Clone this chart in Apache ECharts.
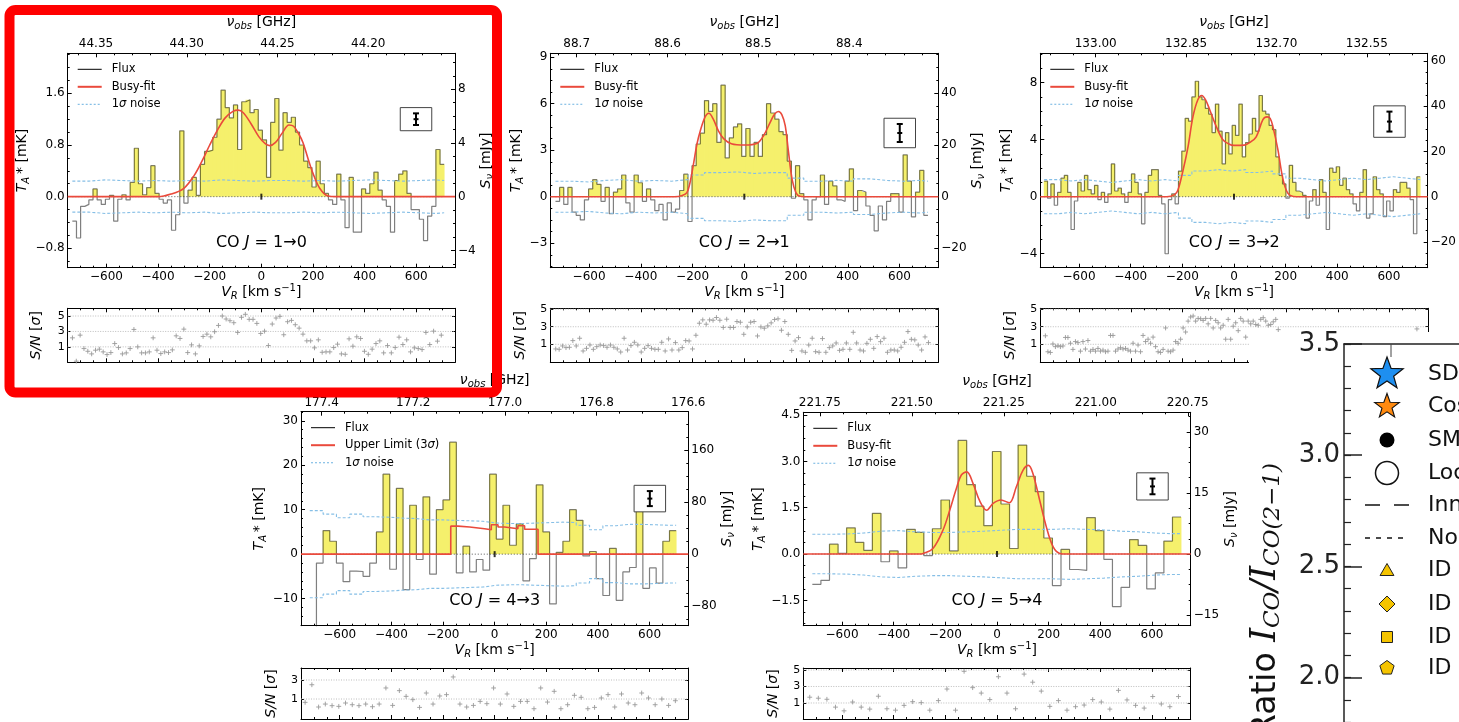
<!DOCTYPE html>
<html><head><meta charset="utf-8">
<script src="https://cdn.jsdelivr.net/npm/echarts@6/dist/echarts.min.js"></script>
<style>html,body{margin:0;padding:0;background:#fff}#c{width:1459px;height:722px}</style>
</head><body><div id="c"></div>
<script>
// ================= DATA =================
const velTicks = [-600,-400,-200,0,200,400,600];

// ---- CO J=1-0 ----
const co10_vStart = -732, co10_dv = 16;
const co10_flux = [
 -0.38,-0.64,-0.15,-0.12,-0.05,0.12,-0.05,-0.12,-0.04,0.02,
 -0.38,-0.04,0.03,-0.05,0.22,0.75,0.20,0.03,0.14,0.48,
 0.05,-0.04,-0.10,-0.05,-0.52,-0.28,1.02,-0.10,0.10,0.30,
 0.02,0.50,0.70,0.72,0.92,1.20,1.65,1.38,1.22,1.42,
 0.73,1.47,1.50,1.30,1.35,1.03,0.88,0.30,1.15,1.52,
 0.72,1.30,1.15,1.23,1.00,0.80,0.55,0.45,0.15,0.55,
 0.20,0.05,-0.05,-0.12,0.35,-0.05,-0.48,0.30,-0.55,-0.55,
 0.12,0.05,0.20,0.38,0.10,-0.05,-0.15,-0.55,0.25,0.35,
 0.40,0.05,-0.20,-0.20,-0.35,-0.68,-0.30,-0.15,0.73,0.50];
const co10_noiseStep = 64;
const co10_noise = [0.24,0.26,0.25,0.24,0.25,0.24,0.25,0.24,0.26,0.25,0.24,0.25,0.25,0.24,0.25,0.24,0.25,0.26,0.25,0.24,0.25,0.26,0.25];
const co10_fitV = [-750,-400,-350,-300,-260,-230,-200,-170,-140,-110,-90,-70,-40,-10,15,32,55,80,107,125,145,161,180,200,226,258,290,750];
const co10_fitT = [0,0,0.04,0.13,0.33,0.55,0.8,1.03,1.22,1.32,1.34,1.3,1.13,0.93,0.82,0.79,0.84,0.98,1.11,1.09,0.97,0.84,0.6,0.36,0.13,0.01,0,0];
const co10_err = [599, 1.20, 0.09];
const co10_snStart = -731.6, co10_snStep = 14.88;
const co10_sn = [2.17,-0.85,2.52,0.78,0.43,0.09,0.57,0.70,0.35,0.0,
 0.26,1.43,0.91,0.09,0.22,0.78,3.26,1.0,0.22,0.22,
 0.35,2.17,0.57,0.13,0.35,0.26,0.61,2.43,2.09,3.3,
 0.26,1.26,0.09,1.13,2.35,2.65,2.3,2.96,3.78,5.0,
 4.61,4.39,4.13,2.87,4.83,5.22,4.57,4.57,4.04,2.74,
 3.04,1.17,3.96,4.74,4.96,2.57,4.26,4.43,3.87,3.43,
 2.65,1.78,1.78,0.87,1.91,0.3,0.35,0.35,0.91,1.35,
 0.09,0.04,2.04,1.09,2.3,2.09,0.43,0.04,0.7,1.43,
 1.78,0.22,1.17,0.22,0.91,2.26,1.3,1.91,0.35,0.87,
 0.78,0.65,2.87,1.3,3.04,1.74,2.52];
const co10_freqTicks = [44.20,44.25,44.30,44.35];
const co10_TTicks = [-0.8,0,0.8,1.6];
const co10_STicks = [-4,0,4,8];
const co10_snTicks = [1,3,5];

// ---- CO J=2-1 ----
const co21_vStart = -730, co21_dv = 16;
const co21_flux = [
 -0.3,0.6,-0.5,0.6,-1.0,-1.2,-1.5,-0.2,0.5,1.1,
 0.8,-0.3,0.6,-1.1,0.3,0.5,1.4,-0.4,-1.0,1.4,
 0.9,-0.3,0.5,-0.2,-0.9,-0.5,-1.5,-0.4,-1.0,-0.8,
 0.4,1.45,-1.6,2.0,3.4,4.1,6.2,5.5,6.0,3.5,
 7.2,2.5,3.8,4.5,4.7,2.6,4.4,2.6,3.5,2.6,
 4.0,6.0,5.4,5.0,4.2,4.0,2.3,-0.1,2.0,0.2,
 -0.2,-1.5,-0.2,0.0,1.4,-0.5,1.0,0.7,-0.2,-0.3,
 1.0,1.8,-0.9,0.4,0.3,-0.6,-1.2,-2.2,-0.6,-1.5,
 -0.3,0.2,0.2,-1.0,2.7,1.0,-1.3,0.3,1.7,-1.2];
const co21_noiseStep = 64;
const co21_noise = [1.0,0.95,1.05,1.1,1.0,1.05,1.0,1.1,1.4,1.55,1.6,1.5,1.55,1.55,1.2,1.0,1.05,1.0,1.15,1.05,1.0,1.05,1.0];
const co21_fitV = [-750,-270,-240,-222,-210,-196,-183,-170,-151,-137,-120,-100,-80,-50,0,50,75,100,118,132,145,158,170,185,200,215,235,750];
const co21_fitT = [0,0,0.08,0.26,0.9,2.15,3.4,4.26,5.16,5.38,5.0,4.25,3.75,3.42,3.33,3.45,3.95,4.8,5.35,5.5,5.3,4.6,3.0,1.1,0.25,0.03,0,0];
const co21_err = [601, 4.11, 0.58];
const co21_snStart = -729, co21_snStep = 13.22;
const co21_sn = [0.47,0.43,0.81,0.62,0.66,1.42,0.81,1.69,0.24,0.54,
 0.92,0.43,0.73,0.92,0.85,0.66,0.92,0.66,0.47,0.12,
 1.69,0.35,0.85,1.23,0.92,0.12,0.54,0.85,0.54,0.43,
 0.43,1.23,0.24,1.61,0.35,1.19,0.35,0.62,1.42,1.38,
 0.47,2.03,3.4,3.78,3.29,3.78,3.74,4.05,3.74,2.92,
 3.86,2.92,2.92,3.59,3.51,2.14,2.98,3.51,3.59,1.95,
 2.98,2.83,3.1,3.44,3.82,3.9,2.6,3.59,2.14,0.31,
 1.38,1.76,0.24,0.09,0.92,1.69,0.16,0.09,1.65,0.09,
 0.62,0.81,1.15,0.31,0.43,1.15,0.43,2.37,1.15,0.35,
 0.24,1.11,1.57,0.54,1.88,1.3,1.69,0.09,0.35,0.35,
 0.24,0.66,1.23,2.45,1.57,1.5,0.92,0.35,1.84,1.19];
const co21_freqTicks = [88.4,88.5,88.6,88.7];
const co21_TTicks = [-3,0,3,6,9];
const co21_STicks = [-20,0,20,40];
const co21_snTicks = [1,3,5];

// ---- CO J=3-2 ----
const co32_vStart = -735, co32_dv = 13;
const co32_flux = [
 1.1,-0.1,0.9,-0.6,0.3,1.3,1.5,0.3,-2.3,-0.3,
 1.0,0.4,1.5,0.5,0.2,0.8,-0.2,0.3,-0.4,0.2,
 2.3,0.4,0.6,0.2,-0.4,0.3,1.6,1.0,0.2,-1.9,
 0.3,1.5,1.9,1.9,0.1,-0.5,-4.0,-0.2,0.2,-0.5,
 1.8,3.2,5.5,5.3,7.0,8.1,7.0,6.8,6.2,5.8,
 4.5,6.5,4.6,2.3,4.5,3.0,5.0,4.3,6.5,2.8,
 3.8,4.4,5.5,4.6,7.1,6.0,5.8,5.0,4.7,2.8,
 1.5,0.9,-0.1,2.2,1.0,0.4,0.3,0.1,-1.5,-0.3,
 0.5,-0.6,1.2,0.3,-2.3,2.0,1.7,2.1,0.8,1.3,
 0.5,0.2,-0.5,-1.0,0.3,1.9,-1.5,-1.2,1.4,0.5,
 0.2,-1.4,-0.3,-1.0,0.5,0.3,1.0,1.0,0.6,-0.2,
 -2.6,1.4];
const co32_noiseStep = 52;
const co32_noise = [1.2,1.1,1.2,1.1,1.0,1.1,1.2,1.1,1.2,1.1,1.5,1.8,1.9,1.8,1.9,1.7,1.8,1.6,1.3,1.2,1.1,1.2,1.3,1.2,1.3,1.4,1.3,1.2];
const co32_fitV = [-750,-260,-230,-217,-197,-178,-159,-140,-125,-110,-94,-68,-43,-20,0,40,65,86,112,128,140,151,170,190,209,230,260,750];
const co32_fitT = [0,0,0.15,0.47,1.87,3.5,5.6,6.8,7.1,6.8,6.1,4.9,4.0,3.7,3.6,3.62,3.85,4.2,5.4,5.6,5.5,4.9,3.3,1.2,0.23,0.02,0,0];
const co32_err = [602, 5.27, 0.70];
const co32_snStart = -730.3, co32_snStep = 9.68;
const co32_sn = [1.97,0.15,0.07,1.04,0.73,0.84,0.73,0.81,1.78,1.78,
 1.12,0.42,1.31,1.19,0.22,1.31,0.46,1.43,0.22,0.42,
 0.22,0.53,0.22,0.34,0.15,0.22,2.01,2.01,0.22,0.46,
 0.61,0.46,0.53,0.34,0.22,1.12,0.22,0.92,0.15,2.01,
 1.31,1.58,1.12,1.82,0.73,0.15,0.07,0.42,2.86,0.22,
 0.15,0.34,1.31,1.12,1.58,2.86,2.40,3.64,4.11,4.22,
 3.64,3.95,3.91,3.72,3.95,3.33,3.95,2.86,3.72,3.45,
 2.86,3.17,1.58,3.84,1.58,3.06,3.45,2.55,3.95,3.64,
 1.82,3.64,3.33,3.64,3.25,3.17,3.84,4.03,3.64,3.17,
 3.25,3.56,3.84,2.67];
const co32_snTailV = [706], co32_snTail = [2.75];
const co32_freqTicks = [132.55,132.70,132.85,133.00];
const co32_TTicks = [-4,0,4,8];
const co32_STicks = [-20,0,20,40,60];
const co32_snTicks = [1,3,5];

// ---- CO J=4-3 ----
const co43_vStart = -716, co43_dv = 25.8;
const co43_flux = [-20,-2.0,5.3,2.9,-2.0,-6.2,-3.8,-3.9,-5.0,-2.0,
 5.0,18.0,-3.4,14.8,-8.0,11.0,-1.2,12.9,-4.5,10.0,
 12.2,25.2,-4.2,1.8,-4.0,-1.2,-3.6,18.0,3.4,11.0,
 2.0,6.8,-6.0,-1.0,15.6,5.0,-11.2,0.4,2.9,10.0,
 7.6,-0.4,0.6,-5.5,-9.3,1.3,-10.4,-4.0,-3.0,9.9,
 -7.7,-3.1,-6.5,2.9,5.3];
const co43_noiseStep = 51.6;
const co43_noise = [9.8,9.0,8.2,9.0,8.4,8.3,8.1,8.0,7.7,7.7,7.6,7.5,7.4,7.0,6.9,6.9,7.0,7.1,7.2,7.1,6.5,5.5,6.4,6.7,6.7,6.6,6.5,6.5];
const co43_ulEdges = [-170,-142,-97,-39,-13,13,39,90,116,168];
const co43_ulVals = [6.3,6.1,5.7,5.5,6.6,6.1,5.7,6.4,5.6];
const co43_err = [601, 12.5, 1.69];
const co43_snStart = -734, co43_snStep = 26.07;
const co43_sn = [0.65,2.5,0.16,0.47,0.3,0.23,0.58,0.4,0.3,0.47,
 0.19,0.47,2.16,0.33,1.88,1.28,0.93,0.12,1.63,0.47,
 1.32,1.46,3.32,0.47,0.16,0.33,0.75,0.51,2.16,0.47,
 1.53,0.23,0.75,0.75,-0.02,2.16,0.68,1.81,-0.02,0.4,
 1.39,1.18,-0.02,0.12,1.11,1.46,0.16,1.53,0.58,0.4,
 1.63,1.11,0.4,1.0,0.33,0.82];
const co43_freqTicks = [176.6,176.8,177.0,177.2,177.4];
const co43_TTicks = [-10,0,10,20,30];
const co43_STicks = [-80,0,80,160];
const co43_snTicks = [1,3];

// ---- CO J=5-4 ----
const co54_vStart = -715, co54_dv = 33.2;
const co54_flux = [-0.98,-0.85,0.32,0.02,0.85,0.38,0.12,1.32,-0.25,0.1,
 -0.45,0.8,0.7,-0.05,0.82,1.75,0.1,3.68,2.25,1.55,
 0.92,3.32,1.62,0.18,3.53,2.52,2.02,0.52,-1.02,0.15,
 -0.5,-0.53,1.18,0.76,-0.17,-1.7,-1.08,0.47,0.28,-1.13,
 -0.61,0.42,1.2];
const co54_noiseStep = 66.4;
const co54_noise = [0.64,0.65,0.68,0.74,0.76,0.72,0.70,0.70,0.72,0.74,0.77,0.80,0.80,0.80,0.82,0.80,0.78,0.74,0.72,0.68,0.66,0.66];
const co54_fitV = [-750,-300,-286,-248,-209,-183,-157,-138,-117,-93,-67,-40,-15,15,48,75,101,122,139,165,191,217,243,270,750];
const co54_fitT = [0,0,0.02,0.18,0.78,1.42,2.13,2.56,2.66,2.29,1.72,1.42,1.64,1.75,1.66,2.18,2.72,2.87,2.61,1.75,0.88,0.24,0.02,0,0];
const co54_err = [602, 2.19, 0.254];
const co54_snStart = -725, co54_snStep = 33.2;
const co54_sn = [1.7,1.58,1.45,0.5,0.05,1.12,0.5,0.26,1.82,0.3,
 0.13,0.71,1.16,1.04,0.13,1.29,2.69,0.13,4.84,2.86,
 2.2,1.41,4.18,2.2,0.3,4.5,3.52,2.44,0.59,1.29,
 0.13,0.55,0.75,1.41,1.12,0.26,2.53,1.37,0.71,0.38,
 1.78,0.88,0.55,1.78];
const co54_freqTicks = [220.75,221.00,221.25,221.50,221.75];
const co54_TTicks = [-1.5,0,1.5,3.0,4.5];
const co54_STicks = [-15,0,15,30];
const co54_snTicks = [1,3,5];

// ---- overlaid second figure (partial) ----
const ratioTicks = [2.0,2.5,3.0,3.5];
const ratioLegend = ['SD','Cos','SM','Loc','Inn','No','ID','ID','ID','ID'];

// ================= STYLE / LAYOUT =================
const F = 'DejaVu Sans';
const YEL = '#f5f06c', RED = '#ea4a3c', BLUE = '#86bfe6', FLUXC = 'rgba(0,0,0,0.5)';

function rich(size){
  const sm = Math.round(size*0.72);
  const base = {fontFamily:F, color:'#000', fill:'#000'};
  return {
    n:Object.assign({}, base, {fontSize:size, lineHeight:size+4, verticalAlign:'middle'}),
    i:Object.assign({}, base, {fontSize:size, fontStyle:'italic', lineHeight:size+4, verticalAlign:'middle'}),
    s:Object.assign({}, base, {fontSize:sm, fontStyle:'italic', lineHeight:sm+1, verticalAlign:'bottom'}),
    u:Object.assign({}, base, {fontSize:sm, lineHeight:sm+1, verticalAlign:'top'})
  };
}
function tl(min, max, step, base){
  base = base || 0; const out = [];
  const k0 = Math.ceil((min-base)/step - 1e-9), k1 = Math.floor((max-base)/step + 1e-9);
  for (let k=k0; k<=k1; k++) out.push(+(base + k*step).toFixed(8));
  return out;
}
function fmt(v, d){ let s = (+v).toFixed(d); if (parseFloat(s) === 0) s = (0).toFixed(d); return s.replace('-', '\u2212'); }

const NAME_V = '{i|V}{s|R}{n| [km s}{u|\u22121}{n|]}';
const NAME_NU = '{i|\u03bd}{s|obs}{n| [GHz]}';
const NAME_T = '{i|T}{s|A}{n|\u2009* [mK]}';
const NAME_S = '{i|S}{s|\u03bd}{n| [mJy]}';
const NAME_SN = '{i|S/N}{n| [}{i|\u03c3}{n|]}';

const P = [
 {box:[67.7,53.3,387.3,214.4], snBox:[67.7,308.3,387.3,54], vStart:co10_vStart, dv:co10_dv, flux:co10_flux,
  noiseStep:co10_noiseStep, noise:co10_noise, fitV:co10_fitV, fitT:co10_fitT, err:co10_err,
  yL:[-1.1,2.22], yLt:co10_TTicks, yLm:0.2, yLd:1, yR:[-5.29,10.68], yRt:co10_STicks, yRm:1,
  f:[44.1522,44.3656], ft:co10_freqTicks, fm:0.01, fd:2,
  snStart:co10_snStart, snStep:co10_snStep, sn:co10_sn, snY:[-1,6], snT:co10_snTicks,
  label:'1\u21920', lgap:32, rgap:21, sgap:22},
 {box:[550.3,53.3,388,214.4], snBox:[550.3,308.3,388,54], vStart:co21_vStart, dv:co21_dv, flux:co21_flux,
  noiseStep:co21_noiseStep, noise:co21_noise, fitV:co21_fitV, fitT:co21_fitT, err:co21_err,
  yL:[-4.58,9.25], yLt:co21_TTicks, yLm:0.75, yLd:0, yR:[-27.5,55.5], yRt:co21_STicks, yRm:5,
  f:[88.302,88.729], ft:co21_freqTicks, fm:0.02, fd:1,
  snStart:co21_snStart, snStep:co21_snStep, sn:co21_sn, snY:[-1.05,5.1], snT:co21_snTicks,
  label:'2\u21921', lgap:23, rgap:28, sgap:21},
 {box:[1040.3,53.3,388,214.4], snBox:[1040.3,308.3,388,54], vStart:co32_vStart, dv:co32_dv, flux:co32_flux,
  noiseStep:co32_noiseStep, noise:co32_noise, fitV:co32_fitV, fitT:co32_fitT, err:co32_err,
  yL:[-4.98,10.06], yLt:co32_TTicks, yLm:1, yLd:0, yR:[-31.4,63.4], yRt:co32_STicks, yRm:5,
  f:[132.449,133.092], ft:co32_freqTicks, fm:0.0375, fd:2,
  snStart:co32_snStart, snStep:co32_snStep, sn:co32_sn, snY:[-1.05,5.1], snT:co32_snTicks,
  snTailV:co32_snTailV, snTail:co32_snTail, noRightName:true,
  label:'3\u21922', lgap:22, rgap:38, sgap:21},
 {box:[301,411.7,387.3,214], snBox:[301,668,387.3,51], vStart:co43_vStart, dv:co43_dv, flux:co43_flux,
  noiseStep:co43_noiseStep, noise:co43_noise, upper:true, err:co43_err,
  yL:[-16.1,32.05], yLt:co43_TTicks, yLm:2, yLd:0, yR:[-110,219], yRt:co43_STicks, yRm:20,
  f:[176.6,177.445], ft:co43_freqTicks, fm:0.05, fd:1,
  snStart:co43_snStart, snStep:co43_snStep, sn:co43_sn, snY:[-1.1,4.26], snT:co43_snTicks,
  label:'4\u21923', lgap:30, rgap:30, sgap:21},
 {box:[803.3,412.3,387.4,213.4], snBox:[803.3,668,387.4,51], vStart:co54_vStart, dv:co54_dv, flux:co54_flux,
  noiseStep:co54_noiseStep, noise:co54_noise, fitV:co54_fitV, fitT:co54_fitT, err:co54_err,
  yL:[-2.32,4.59], yLt:co54_TTicks, yLm:0.375, yLd:1, yR:[-17.6,34.8], yRt:co54_STicks, yRm:3.75,
  f:[220.742,221.795], ft:co54_freqTicks, fm:0.0625, fd:2,
  snStart:co54_snStart, snStep:co54_snStep, sn:co54_sn, snY:[-0.94,5.24], snT:co54_snTicks,
  label:'5\u21924', lgap:34, rgap:27, sgap:21}
];

const grids=[], xAxes=[], yAxes=[], series=[], graphic=[];

function ax(o){
  const a = {
    type:'value', gridIndex:o.g, position:o.pos, min:o.min, max:o.max, inverse:!!o.inv, z:o.z||0,
    axisLine:{show:!!o.line, onZero:false, lineStyle:{color:o.col||'#000', width:o.lw||1}},
    axisTick:{show:true, inside:true, length:o.len, customValues:o.ticks, lineStyle:{color:o.col||'#000', width:o.lw||1}},
    axisLabel:{show:false},
    splitLine:{show:false}, minorTick:{show:false}, minorSplitLine:{show:false}, axisPointer:{show:false}
  };
  if (o.labels) a.axisLabel = {show:true, customValues:o.labels, margin:(o.margin===undefined?3:o.margin), fontFamily:F, fontSize:o.fs||12, color:o.col||'#000', formatter:(v)=>fmt(v,o.d)};
  if (o.name) { a.name=o.name; a.nameLocation='middle'; a.nameGap=o.gap; if (o.rot!==undefined) a.nameRotate=o.rot; a.nameTextStyle={rich:rich(o.nfs||14)}; }
  return a;
}

function fillItem(dv){
  return function(params, api){
    const v = api.value(0), f = api.value(1);
    if (!(f > 0)) return null;
    const a = api.coord([v,0]), b = api.coord([v+dv,f]);
    return {type:'rect', shape:{x:a[0]-0.4, y:b[1], width:b[0]-a[0]+0.8, height:a[1]-b[1]}, style:{fill:YEL}};
  };
}
function plusItem(params, api){
  const c = api.coord([api.value(0), api.value(1)]), s = 2.4;
  return {type:'group', children:[
    {type:'line', shape:{x1:c[0]-s,y1:c[1],x2:c[0]+s,y2:c[1]}, style:{stroke:'#9a9a9a', lineWidth:0.9}},
    {type:'line', shape:{x1:c[0],y1:c[1]-s,x2:c[0],y2:c[1]+s}, style:{stroke:'#9a9a9a', lineWidth:0.9}}]};
}
function errItem(params, api){
  const v = api.value(0), t = api.value(1), e = api.value(2);
  const c = api.coord([v,t]);
  const yt = api.coord([v,t+e])[1], yb = api.coord([v,t-e])[1];
  const h = (yb-yt) + 11.5, w = 31.5;
  const st = {stroke:'#000', lineWidth:2};
  return {type:'group', children:[
    {type:'rect', shape:{x:c[0]-w/2, y:c[1]-h/2, width:w, height:h}, style:{fill:'#fff', stroke:'#444', lineWidth:1}},
    {type:'line', shape:{x1:c[0],y1:yt,x2:c[0],y2:yb}, style:st},
    {type:'line', shape:{x1:c[0]-3,y1:yt,x2:c[0]+3,y2:yt}, style:st},
    {type:'line', shape:{x1:c[0]-3,y1:yb,x2:c[0]+3,y2:yb}, style:st},
    {type:'line', shape:{x1:c[0]-2.5,y1:c[1],x2:c[0]+2.5,y2:c[1]}, style:st}]};
}

P.forEach((p) => {
  // ---------- main spectrum panel ----------
  const g = grids.length; const [L,T,W,H] = p.box;
  grids.push({left:L, top:T, width:W, height:H});
  const xi = xAxes.length;
  xAxes.push(ax({g, pos:'bottom', min:-750, max:750, line:true, len:4, ticks:velTicks, labels:velTicks, d:0, name:NAME_V, gap:16}));
  xAxes.push(ax({g, pos:'bottom', min:-750, max:750, len:2, ticks:tl(-750,750,50)}));
  xAxes.push(ax({g, pos:'top', min:p.f[0], max:p.f[1], inv:true, line:true, len:4, ticks:p.ft, labels:p.ft, d:p.fd, name:NAME_NU, gap:22}));
  xAxes.push(ax({g, pos:'top', min:p.f[0], max:p.f[1], inv:true, len:2, ticks:tl(p.f[0],p.f[1],p.fm,p.ft[0])}));
  const yi = yAxes.length;
  yAxes.push(ax({g, pos:'left', min:p.yL[0], max:p.yL[1], line:true, len:4, ticks:p.yLt, labels:p.yLt, d:p.yLd, name:NAME_T, gap:p.lgap, rot:90}));
  yAxes.push(ax({g, pos:'left', min:p.yL[0], max:p.yL[1], len:2, ticks:tl(p.yL[0],p.yL[1],p.yLm)}));
  yAxes.push(ax({g, pos:'right', min:p.yR[0], max:p.yR[1], line:true, len:4, ticks:p.yRt, labels:p.yRt, d:0, name:(p.noRightName?undefined:NAME_S), gap:p.rgap, rot:90}));
  yAxes.push(ax({g, pos:'right', min:p.yR[0], max:p.yR[1], len:2, ticks:tl(p.yR[0],p.yR[1],p.yRm)}));

  const N = p.flux.length, vEnd = p.vStart + N*p.dv;
  const pts = p.flux.map((f,i)=>[p.vStart + i*p.dv, f]);
  const common = {xAxisIndex:xi, yAxisIndex:yi, silent:true, animation:false};
  series.push(Object.assign({type:'custom', data:pts, z:1, renderItem:fillItem(p.dv)}, common));
  series.push(Object.assign({type:'line', data:[[p.vStart,0],[vEnd,0]], symbol:'none', z:2,
    lineStyle:{color:'#555', width:1, type:[1,2]}}, common));
  series.push(Object.assign({type:'line', step:'end', data:pts.concat([[vEnd, p.flux[N-1]]]), symbol:'none', z:3,
    lineStyle:{color:FLUXC, width:1.2}}, common));
  const up = [], lo = [];
  for (let k=0; k<p.noise.length; k++){ const x = p.vStart + k*p.noiseStep; if (x >= vEnd) break; up.push([x, p.noise[k]]); lo.push([x, -p.noise[k]]); }
  up.push([vEnd, up[up.length-1][1]]); lo.push([vEnd, lo[lo.length-1][1]]);
  [up, lo].forEach(d => series.push(Object.assign({type:'line', step:'end', data:d, symbol:'none', z:3,
    lineStyle:{color:BLUE, width:1.1, type:[3,2]}}, common)));
  if (p.upper){
    const d = [[-750,0]];
    co43_ulVals.forEach((v,k)=>d.push([co43_ulEdges[k], v]));
    d.push([co43_ulEdges[co43_ulEdges.length-1], 0]); d.push([750,0]);
    series.push(Object.assign({type:'line', step:'end', data:d, symbol:'none', z:4, lineStyle:{color:RED, width:1.6}}, common));
  } else {
    series.push(Object.assign({type:'line', smooth:0.35, data:p.fitV.map((v,i)=>[v,p.fitT[i]]), symbol:'none', z:4,
      lineStyle:{color:RED, width:1.6}}, common));
  }
  series.push(Object.assign({type:'scatter', data:[[0,0]], symbol:'rect', symbolSize:[2,6], itemStyle:{color:'#000'}, z:5}, common));
  series.push(Object.assign({type:'custom', data:[p.err], z:6, renderItem:errItem}, common));

  // legend & label
  const rows = [
    {y:T+16, st:{stroke:'#000', lineWidth:1}, txt:'{n|Flux}'},
    {y:T+33.5, st:{stroke:RED, lineWidth:2}, txt: p.upper ? '{n|Upper Limit (3}{i|\u03c3}{n|)}' : '{n|Busy-fit}'},
    {y:T+51, st:{stroke:BLUE, lineWidth:1.2, lineDash:[2,2]}, txt:'{n|1}{i|\u03c3}{n| noise}'}];
  rows.forEach(r => {
    graphic.push({type:'line', shape:{x1:L+10, y1:r.y, x2:L+34, y2:r.y}, style:r.st, z:5, silent:true});
    graphic.push({type:'text', x:L+44, y:r.y, style:{text:r.txt, rich:rich(11.5), align:'left', verticalAlign:'middle'}, z:5, silent:true});
  });
  const cx = L + W*0.5;
  graphic.push({type:'text', x:cx, y:T+H*0.884, style:{text:'{n|CO }{i|J}{n| = '+p.label+'}', rich:rich(16), align:'center', verticalAlign:'middle'}, z:5, silent:true});

  // ---------- S/N panel ----------
  const gs = grids.length; const [sL,sT,sW,sH] = p.snBox;
  grids.push({left:sL, top:sT, width:sW, height:sH});
  const sxi = xAxes.length;
  xAxes.push(ax({g:gs, pos:'bottom', min:-750, max:750, line:true, len:4, ticks:velTicks}));
  xAxes.push(ax({g:gs, pos:'bottom', min:-750, max:750, len:2, ticks:tl(-750,750,50)}));
  xAxes.push(ax({g:gs, pos:'top', min:-750, max:750, line:true, len:4, ticks:velTicks}));
  xAxes.push(ax({g:gs, pos:'top', min:-750, max:750, len:2, ticks:tl(-750,750,50)}));
  const syi = yAxes.length;
  yAxes.push(ax({g:gs, pos:'left', min:p.snY[0], max:p.snY[1], line:true, len:3, ticks:p.snT, labels:p.snT, d:0, fs:11, name:NAME_SN, gap:p.sgap, rot:90}));
  yAxes.push(ax({g:gs, pos:'right', min:p.snY[0], max:p.snY[1], line:true, len:3, ticks:p.snT}));
  const sc = {xAxisIndex:sxi, yAxisIndex:syi, silent:true, animation:false};
  p.snT.forEach(v => series.push(Object.assign({type:'line', data:[[-750,v],[750,v]], symbol:'none', z:1,
    lineStyle:{color:'#b5b5b5', width:0.9, type:[1,1.5]}}, sc)));
  let snPts = p.sn.map((s,i)=>[p.snStart + i*p.snStep, s]);
  if (p.snTail) snPts = snPts.concat(p.snTail.map((s,i)=>[p.snTailV[i], s]));
  series.push(Object.assign({type:'custom', data:snPts, z:3, renderItem:plusItem}, sc));
});

// ---------- overlaid partial figure (bottom right) ----------
graphic.push({type:'rect', shape:{x:1249, y:332, width:215, height:395}, style:{fill:'#fff'}, z:10, silent:true});
const go = grids.length;
grids.push({left:1344, top:344, width:400, height:378.2});
xAxes.push({type:'value', gridIndex:go, position:'top', min:0, max:1, z:20,
  axisLine:{show:true, onZero:false, lineStyle:{color:'#222', width:1.5}}, axisTick:{show:false}, axisLabel:{show:false}, splitLine:{show:false}});
yAxes.push(ax({g:go, pos:'left', min:1.8, max:3.5, line:true, len:18, ticks:ratioTicks, labels:ratioTicks, d:1, fs:26, margin:4, z:20, lw:1.5, col:'#222'}));
yAxes.push(ax({g:go, pos:'left', min:1.8, max:3.5, len:7, ticks:tl(1.8,3.5,0.1), z:20, lw:1.2, col:'#222'}));

graphic.push({type:'line', shape:{x1:1391, y1:344, x2:1391, y2:357}, style:{stroke:'#444', lineWidth:1}, z:25, silent:true});
graphic.push({type:'text', x:1285, y:463, rotation:Math.PI/2, z:25, silent:true, style:{
  text:'{r|Ratio }{m|I}{ms|CO}{m|/I}{ms|CO(2\u22121)}', align:'right', verticalAlign:'bottom',
  rich:{
    r:{fontFamily:F, fontSize:33, fill:'#111', color:'#111', lineHeight:38, verticalAlign:'middle'},
    m:{fontFamily:'DejaVu Serif', fontStyle:'italic', fontSize:35, fill:'#111', color:'#111', lineHeight:38, verticalAlign:'middle'},
    ms:{fontFamily:'DejaVu Serif', fontStyle:'italic', fontSize:23, fill:'#111', color:'#111', lineHeight:24, verticalAlign:'bottom'}
  }}});

function star(cx, cy, R, r){ const pts=[]; for (let k=0;k<10;k++){ const a=-Math.PI/2+k*Math.PI/5, rr=(k%2)?r:R; pts.push([cx+rr*Math.cos(a), cy+rr*Math.sin(a)]); } return pts; }
function ngon(cx, cy, R, n, rot){ const pts=[]; for (let k=0;k<n;k++){ const a=rot+k*2*Math.PI/n; pts.push([cx+R*Math.cos(a), cy+R*Math.sin(a)]); } return pts; }
const ovX = 1387, ovTX = 1428, GOLD = '#f5c400';
const ovY = [374, 406.5, 440, 473, 505, 538, 570, 604, 637, 668];
const mk = [
  {type:'polygon', shape:{points:star(ovX, ovY[0], 17, 7)}, style:{fill:'#1e8ff0', stroke:'#111', lineWidth:1.2}},
  {type:'polygon', shape:{points:star(ovX, ovY[1], 13, 5.3)}, style:{fill:'#ff8a10', stroke:'#111', lineWidth:1.1}},
  {type:'circle', shape:{cx:ovX, cy:ovY[2], r:7.5}, style:{fill:'#000'}},
  {type:'circle', shape:{cx:ovX, cy:ovY[3], r:11.5}, style:{fill:'#fff', stroke:'#111', lineWidth:1.5}},
  {type:'line', shape:{x1:1365, y1:ovY[4], x2:1410, y2:ovY[4]}, style:{stroke:'#111', lineWidth:1.6, lineDash:[15,14]}},
  {type:'line', shape:{x1:1365, y1:ovY[5], x2:1408, y2:ovY[5]}, style:{stroke:'#111', lineWidth:1.3, lineDash:[5,6]}},
  {type:'polygon', shape:{points:ngon(ovX, ovY[6]+1.5, 8, 3, -Math.PI/2)}, style:{fill:GOLD, stroke:'#222', lineWidth:1}},
  {type:'polygon', shape:{points:ngon(ovX, ovY[7], 8, 4, -Math.PI/2)}, style:{fill:GOLD, stroke:'#222', lineWidth:1}},
  {type:'rect', shape:{x:ovX-5.5, y:ovY[8]-5.5, width:11, height:11}, style:{fill:GOLD, stroke:'#222', lineWidth:1}},
  {type:'polygon', shape:{points:ngon(ovX, ovY[9], 7.5, 5, -Math.PI/2)}, style:{fill:GOLD, stroke:'#222', lineWidth:1}}
];
mk.forEach(m => graphic.push(Object.assign(m, {z:25, silent:true})));
ratioLegend.forEach((t,k) => graphic.push({type:'text', x:ovTX, y:ovY[k], z:25, silent:true,
  style:{text:t, fontFamily:F, fontSize:22, fill:'#111', align:'left', verticalAlign:'middle'}}));

// red highlight frame around first panel
graphic.push({type:'rect', shape:{x:9.5, y:10, width:487.5, height:382.5, r:6}, style:{fill:'none', stroke:'#ff0000', lineWidth:10}, z:40, silent:true});

const chart = echarts.init(document.getElementById('c'), null, {renderer:'canvas'});
chart.setOption({
  animation:false,
  backgroundColor:'#fff',
  textStyle:{fontFamily:F},
  grid:grids, xAxis:xAxes, yAxis:yAxes, series:series,
  graphic:{elements:graphic}
});
</script>
</body></html>
